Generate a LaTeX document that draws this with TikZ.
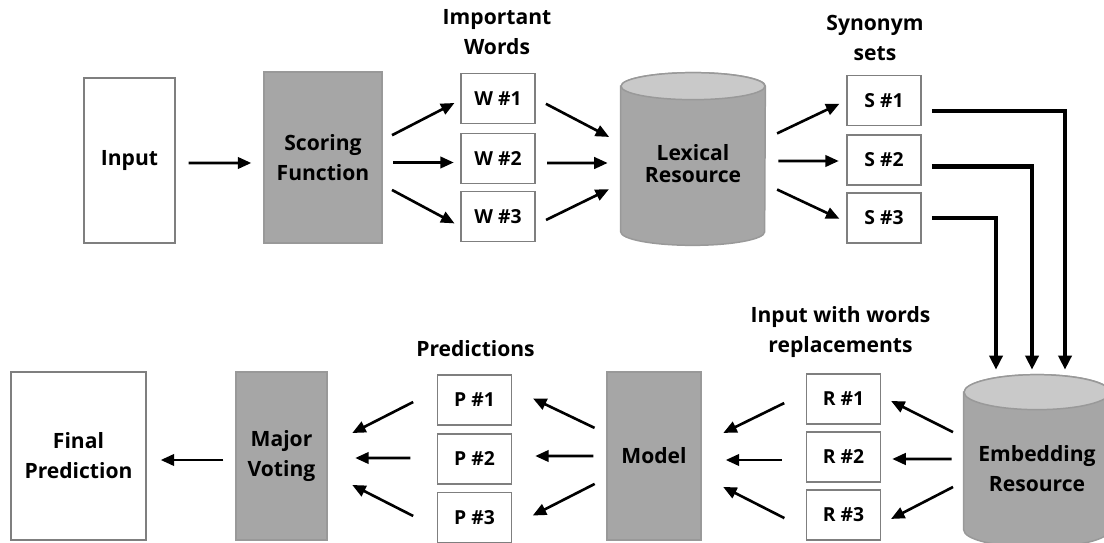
\documentclass[tikz,border=0pt]{standalone}
\usepackage{fontspec}
\setmainfont{Open Sans}
\usetikzlibrary{arrows.meta}

\definecolor{boxline}{HTML}{7F7F7F}
\definecolor{boxgray}{HTML}{A6A6A6}
\definecolor{cyltop}{HTML}{C9C9C9}

\begin{document}
\begin{tikzpicture}[x=0.02cm, y=-0.02cm,
    testo/.style={font=\bfseries\fontsize{12}{17}\selectfont, align=center},
    plainbox/.style={testo, draw=boxline, fill=white, line width=0.85pt, inner sep=0pt},
    graybox/.style={testo, draw=boxline!80, fill=boxgray, line width=0.85pt, inner sep=0pt},
    smallbox/.style={plainbox, font=\bfseries\fontsize{11}{13}\selectfont,
      minimum width=1.48cm, minimum height=1cm},
    cylbox/.style={draw=boxline!80, fill=boxgray, line width=0.85pt},
    fan/.style={line width=1.5pt, -{Triangle[length=0.27cm, width=0.23cm]}},
    elbow/.style={line width=2.8pt, -{Triangle[length=0.28cm, width=0.26cm]},
      shorten <=0.2cm, shorten >=0.1cm}]

  \useasboundingbox (0,0) rectangle (1104,543);

  % upper row
  \node[plainbox, minimum width=1.82cm, minimum height=3.3cm] (input) at (129.5,160.5) {Input};
  \node[graybox, minimum width=2.36cm, minimum height=3.42cm] (score) at (323,157.5) {Scoring\\Function};
  \node[smallbox] (w1) at (498,98.5) {W \#1};
  \node[smallbox] (w2) at (498,158.5) {W \#2};
  \node[smallbox] (w3) at (498,216.5) {W \#3};
  \node[testo] (impw) at (497,32) {Important\\Words};

  \node[minimum width=2.88cm, minimum height=3.44cm, inner sep=0pt] (lex) at (693,159) {};
  \draw[cylbox] ([yshift=-0.27cm]lex.north west) -- ([yshift=0.27cm]lex.south west)
    arc[start angle=180, end angle=360, x radius=1.44cm, y radius=0.27cm]
    -- ([yshift=-0.27cm]lex.north east)
    arc[start angle=0, end angle=180, x radius=1.44cm, y radius=0.27cm] -- cycle;
  \draw[cylbox, fill=cyltop] ([yshift=-0.27cm]lex.north) ellipse[x radius=1.44cm, y radius=0.27cm];
  \node[testo, font=\bfseries\fontsize{12}{12.5}\selectfont] (lextext) at ([yshift=-0.1cm]lex.center) {Lexical\\Resource};

  \node[smallbox] (s1) at (884,100.5) {S \#1};
  \node[smallbox] (s2) at (884,160) {S \#2};
  \node[smallbox] (s3) at (884,218) {S \#3};
  \node[testo] (syn) at (875,38) {Synonym\\sets};

  % lower row
  \node[minimum width=2.92cm, minimum height=3.44cm, inner sep=0pt] (emb) at (1037,461) {};
  \draw[cylbox] ([yshift=-0.35cm]emb.north west) -- ([yshift=0.35cm]emb.south west)
    arc[start angle=180, end angle=360, x radius=1.46cm, y radius=0.35cm]
    -- ([yshift=-0.35cm]emb.north east)
    arc[start angle=0, end angle=180, x radius=1.46cm, y radius=0.35cm] -- cycle;
  \draw[cylbox, fill=cyltop] ([yshift=-0.35cm]emb.north) ellipse[x radius=1.46cm, y radius=0.35cm];
  \node[testo] (embtext) at ([yshift=-0.15cm]emb.center) {Embedding\\Resource};

  \node[smallbox] (r1) at (843.5,399) {R \#1};
  \node[smallbox] (r2) at (843.5,457) {R \#2};
  \node[smallbox] (r3) at (843.5,515) {R \#3};
  \node[testo] (repl) at (840.5,332) {Input with words\\replacements};

  \node[graybox, minimum width=1.88cm, minimum height=3.36cm] (model) at (654,456) {Model};
  \node[smallbox] (p1) at (474.5,400) {P \#1};
  \node[smallbox] (p2) at (474.5,459) {P \#2};
  \node[smallbox] (p3) at (474.5,517.5) {P \#3};
  \node[testo] (pred) at (475.5,349) {Predictions};

  \node[graybox, minimum width=1.82cm, minimum height=3.36cm] (vote) at (281.5,456) {Major\\Voting};
  \node[plainbox, minimum width=2.7cm, minimum height=3.36cm] (final) at (78.5,456) {Final\\Prediction};

  % arrows
  \draw[fan, shorten <=0.26cm, shorten >=0.24cm] ([yshift=-0.05cm]input.east) -- ([yshift=-0.11cm]score.west);
  \foreach \i/\a/\b in {1/0.35cm/-0.03cm, 2/-0.1cm/-0.08cm, 3/-0.55cm/-0.2cm}
    \draw[fan, shorten <=0.21cm, shorten >=0.13cm] ([yshift=\a]score.east) -- ([yshift=\b]w\i.west);
  \foreach \i/\a/\b in {1/0cm/0.32cm, 2/-0.09cm/-0.08cm, 3/-0.17cm/-0.49cm}
    \draw[fan, shorten <=0.23cm, shorten >=0.26cm] ([yshift=\a]w\i.east) -- ([yshift=\b]lex.west);
  \foreach \i/\a/\b in {1/0.4cm/0cm, 2/-0.04cm/-0.02cm, 3/-0.5cm/-0.08cm}
    \draw[fan, shorten <=0.26cm, shorten >=0.15cm] ([yshift=\a]lex.east) -- ([yshift=\b]s\i.west);

  \draw[elbow] ([yshift=-0.21cm]s1.east) -| ([xshift=0.56cm]emb.north);
  \draw[elbow] ([yshift=-0.13cm]s2.east) -| ([xshift=-0.1cm]emb.north);
  \draw[elbow] (s3.east) -| ([xshift=-0.82cm]emb.north);

  \foreach \i/\a/\b in {1/0.47cm/0.06cm, 2/0.04cm/-0.04cm, 3/-0.41cm/-0.18cm}
    \draw[fan, shorten <=0.24cm, shorten >=0.22cm] ([yshift=\a]emb.west) -- ([yshift=\b]r\i.east);
  \foreach \i/\a/\b in {1/0.13cm/0.25cm, 2/-0.06cm/-0.08cm, 3/-0.28cm/-0.4cm}
    \draw[fan, shorten <=0.48cm, shorten >=0.48cm] ([yshift=\a]r\i.west) -- ([yshift=\b]model.east);
  \foreach \i/\a/\b in {1/0.45cm/0.23cm, 2/0cm/0.06cm, 3/-0.44cm/-0.17cm}
    \draw[fan, shorten <=0.26cm, shorten >=0.46cm] ([yshift=\a]model.west) -- ([yshift=\b]p\i.east);
  \foreach \i/\a/\b in {1/0.2cm/0.21cm, 2/0.02cm/-0.04cm, 3/-0.21cm/-0.33cm}
    \draw[fan, shorten <=0.53cm, shorten >=0.55cm] ([yshift=\a]p\i.west) -- ([yshift=\b]vote.east);
  \draw[fan, shorten <=0.24cm, shorten >=0.28cm] ([yshift=-0.08cm]vote.west) -- ([yshift=-0.08cm]final.east);
\end{tikzpicture}
\end{document}
